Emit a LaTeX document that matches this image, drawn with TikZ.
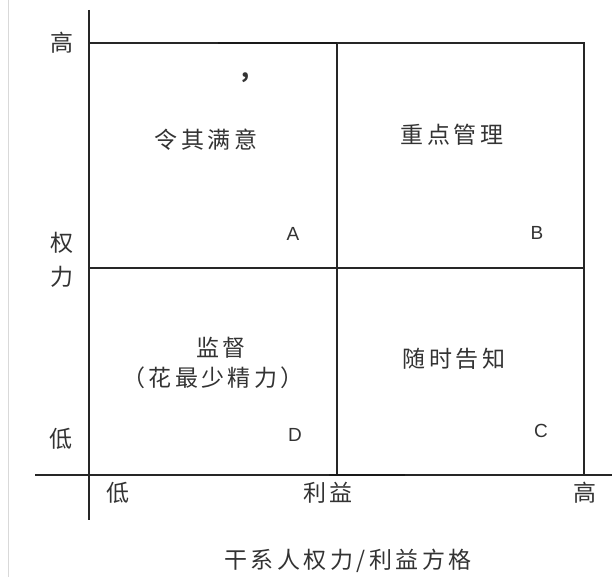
\documentclass[tikz,border=0pt]{standalone}
\usepackage{fontspec}
\setmainfont{Liberation Sans}
\newfontfamily\cjk[LetterSpace=15]{Noto Sans CJK SC}

\begin{document}
\begin{tikzpicture}[x=1pt,y=-1pt,
        every node/.style={inner sep=0pt,text=black!80,font=\cjk\fontsize{23}{27}\selectfont},
        letter/.style={font=\fontsize{19}{22}\selectfont},
        grid/.style={line width=1.2pt,black!85},
        heavy/.style={line width=2.6pt,black!90}]
    \useasboundingbox (0,0) rectangle (612,577);
    \draw[gray!30] (8,0) -- (8,577);
    \coordinate (ytop) at (89,10);
    \coordinate (ybot) at (89,520);
    \coordinate (xl) at (35,475);
    \coordinate (xr) at (612,475);
    \coordinate (tl) at (89,43);
    \coordinate (tm) at (337,43);
    \coordinate (tr) at (584,43);
    \coordinate (ml) at (89,268);
    \coordinate (mr) at (584,268);
    \coordinate (bm) at (337,475);
    \coordinate (br) at (584,475);
    \draw[grid] (ytop) -- (ybot);
    \draw[grid] (xl) -- (xr);
    \draw[grid] (tl) -- (tr) -- (br);
    \draw[grid] (tm) -- (bm);
    \draw[grid] (ml) -- (mr);
    \draw[heavy] (218,43) -- (tm);
    \draw[heavy] (329,475) -- (405,475);
    \node (yhigh) at (62,43) {高};
    \node (ypow) at (62,243) {权};
    \node (yforce) at (62,277) {力};
    \node (ylow) at (61,439) {低};
    \node (xlow) at (118,493) {低};
    \node (xint) at (328,493) {利益};
    \node (xhigh) at (585,493) {高};
    \node (title) at (348,561) {干系人权力/利益方格};
    \node (comma) at (246,78) {\bfseries ,};
    \node (keep) at (206,140) {令其满意};
    \node (manage) at (452,135) {重点管理};
    \node (monitor) at (221,348) {监督};
    \node (effort) at (213,378) {\addfontfeature{RawFeature={+halt}}（花最少精力）};
    \node (inform) at (454,359) {随时告知};
    \node[letter] (a) at (293,234) {A};
    \node[letter] (b) at (537,233) {B};
    \node[letter] (c) at (541,431) {C};
    \node[letter] (d) at (295,435) {D};
\end{tikzpicture}
\end{document}
